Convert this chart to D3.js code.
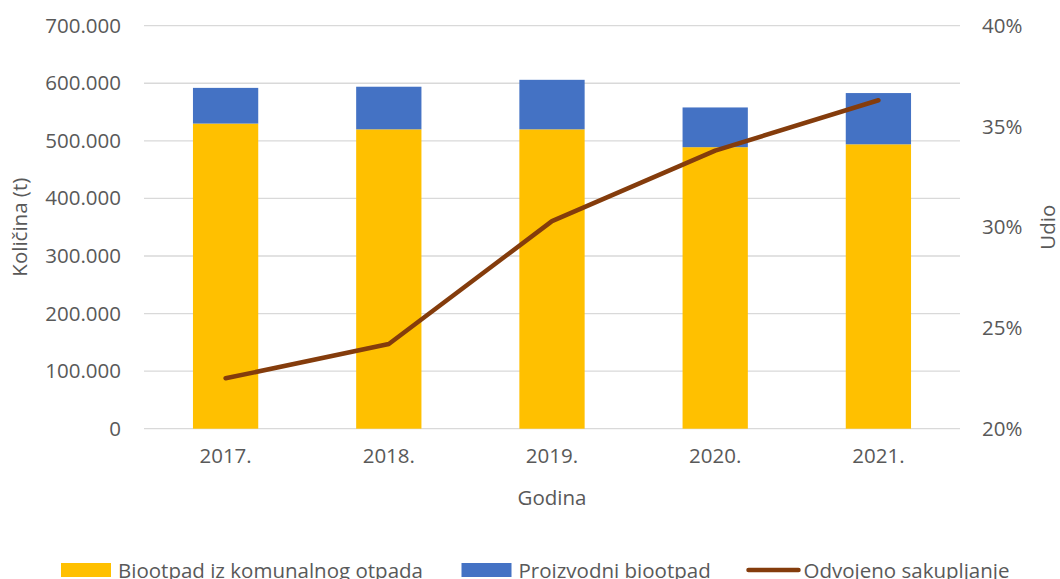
<!DOCTYPE html>
<html>
 <head>
   <meta charset="utf-8" />
   <title>Biootpad</title>
   <script src="https://cdn.jsdelivr.net/npm/d3@7/dist/d3.min.js"></script>
   <style>
     body { margin: 0; background: #fff; }
     text { font-family: "Open Sans", "Noto Sans", sans-serif; fill: #595959; }
   </style>
 </head>
 <body>
   <script>
     var years     = ["2017.", "2018.", "2019.", "2020.", "2021."];
     var komunalni = [530000, 520000, 520000, 489000, 494000];
     var proizvodni = [62000, 74000, 86000, 69000, 89000];
     var udio      = [0.225, 0.242, 0.303, 0.338, 0.363];
     var leftTicks = [0, 100000, 200000, 300000, 400000, 500000, 600000, 700000];
     var rightTicks = [0.20, 0.25, 0.30, 0.35, 0.40];
     var seriesNames = ["Biootpad iz komunalnog otpada", "Proizvodni biootpad", "Odvojeno sakupljanje"];
     var colors = ["#FFC000", "#4472C4", "#843C0C"];

     var width = 1060, height = 579;
     var plotLeft = 144, plotRight = 960, plotTop = 25.7, plotBottom = 428.7;

     var svg = d3.select("body").append("svg")
                 .attr("width", width)
                 .attr("height", height);

     var x = d3.scaleBand().domain(years).range([plotLeft, plotRight]).paddingInner(0.6).paddingOuter(0.3);
     var y = d3.scaleLinear().domain([0, 700000]).range([plotBottom, plotTop]);
     var y2 = d3.scaleLinear().domain([0.20, 0.40]).range([plotBottom, plotTop]);

     var fmt = function(d) { return d === 0 ? "0" : d3.format(",")(d).replace(/,/g, "."); };

     // gridlines
     svg.append("g").selectAll("line")
        .data(leftTicks)
        .enter().append("line")
        .attr("x1", plotLeft).attr("x2", plotRight)
        .attr("y1", function(d) { return y(d); })
        .attr("y2", function(d) { return y(d); })
        .attr("stroke", "#D9D9D9")
        .attr("stroke-width", 1.3);

     // left axis labels
     var yAxis = d3.axisLeft(y).tickValues(leftTicks).tickFormat(fmt).tickSize(0).tickPadding(0);
     var gl = svg.append("g").attr("transform", "translate(121,0)").call(yAxis);
     gl.select(".domain").remove();
     gl.selectAll("text").style("font-size", "20.5px").attr("fill", "#595959");

     // right axis labels
     var y2Axis = d3.axisRight(y2).tickValues(rightTicks).tickFormat(d3.format(".0%")).tickSize(0).tickPadding(0);
     var gr = svg.append("g").attr("transform", "translate(982,0)").call(y2Axis);
     gr.select(".domain").remove();
     gr.selectAll("text").style("font-size", "20.5px").attr("fill", "#595959");

     // x axis labels
     var xAxis = d3.axisBottom(x).tickSize(0).tickPadding(0);
     var gx = svg.append("g").attr("transform", "translate(0," + (plotBottom + 20) + ")").call(xAxis);
     gx.select(".domain").remove();
     gx.selectAll("text").style("font-size", "20.5px").attr("fill", "#595959");

     // bars
     var stacked = d3.stack().keys([0, 1]).value(function(d, k) { return d[k]; })(
       years.map(function(yr, i) { return { year: yr, 0: komunalni[i], 1: proizvodni[i] }; })
     );

     svg.append("g").selectAll("g")
        .data(stacked)
        .enter().append("g")
        .attr("fill", function(d, i) { return colors[i]; })
        .selectAll("rect")
        .data(function(d) { return d; })
        .enter().append("rect")
        .attr("x", function(d) { return x(d.data.year); })
        .attr("width", x.bandwidth())
        .attr("y", function(d) { return y(d[1]); })
        .attr("height", function(d) { return y(d[0]) - y(d[1]); });

     // line
     var line = d3.line()
                  .x(function(d, i) { return x(years[i]) + x.bandwidth() / 2; })
                  .y(function(d) { return y2(d); });

     svg.append("path")
        .datum(udio)
        .attr("d", line)
        .attr("fill", "none")
        .attr("stroke", colors[2])
        .attr("stroke-width", 4.5)
        .attr("stroke-linejoin", "round")
        .attr("stroke-linecap", "round");

     // axis titles
     svg.append("text")
        .attr("x", (plotLeft + plotRight) / 2).attr("y", 505)
        .attr("text-anchor", "middle")
        .style("font-size", "20.5px")
        .text("Godina");

     svg.append("text")
        .attr("transform", "translate(27," + ((plotTop + plotBottom) / 2) + ") rotate(-90)")
        .attr("text-anchor", "middle")
        .style("font-size", "20.5px")
        .text("Količina (t)");

     svg.append("text")
        .attr("transform", "translate(1055," + ((plotTop + plotBottom) / 2) + ") rotate(-90)")
        .attr("text-anchor", "middle")
        .style("font-size", "20.5px")
        .text("Udio");

     // legend
     var legendX = [61, 461.5, 746.5];
     var lg = svg.append("g");
     seriesNames.forEach(function(name, i) {
       if (i < 2) {
         lg.append("rect")
           .attr("x", legendX[i]).attr("y", 563)
           .attr("width", 50).attr("height", 14)
           .attr("fill", colors[i]);
       } else {
         lg.append("line")
           .attr("x1", legendX[i] + 2).attr("x2", legendX[i] + 52)
           .attr("y1", 570).attr("y2", 570)
           .attr("stroke", colors[i])
           .attr("stroke-width", 4.5)
           .attr("stroke-linecap", "round");
       }
       lg.append("text")
         .attr("x", legendX[i] + 57).attr("y", 578)
         .style("font-size", "20.5px")
         .text(name);
     });
   </script>
 </body>
</html>
